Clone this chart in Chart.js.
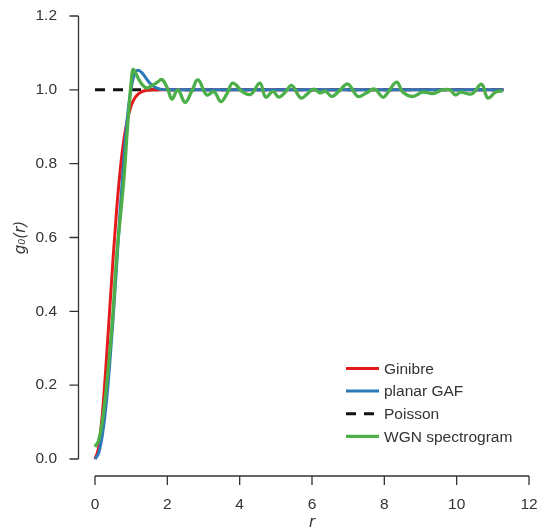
<!DOCTYPE html>
<html>
<head>
<meta charset="utf-8">
<script src="https://cdn.jsdelivr.net/npm/chart.js@4/dist/chart.umd.min.js"></script>
<style>
  html, body { margin: 0; padding: 0; background: #fff; }
</style>
</head>
<body>
<canvas id="chartCanvas" width="541" height="532"></canvas>
<script>
// r values for the smooth curves
const rSmooth = [0, 0.1, 0.2, 0.3, 0.4, 0.5, 0.6, 0.7, 0.8, 0.9, 1.0, 1.1, 1.2, 1.3, 1.4, 1.5, 1.6, 1.7, 1.8, 2.0, 2.4, 11.3];
const ginibre = [0, 0.031, 0.118, 0.247, 0.395, 0.544, 0.677, 0.785, 0.866, 0.921, 0.957, 0.978, 0.989, 0.995, 0.998, 0.999, 1.0, 1.0, 1.0, 1.0, 1.0, 1.0];
const planarGaf = [0, 0.016, 0.063, 0.140, 0.248, 0.38, 0.527, 0.679, 0.818, 0.930, 1.005, 1.044, 1.053, 1.046, 1.033, 1.020, 1.011, 1.005, 1.002, 1.0, 1.0, 1.0];

const rPoisson = [0, 11.3];
const poisson = [1.0, 1.0];

// WGN spectrogram estimate (noisy)
const rWgn = [0, 0.1, 0.2, 0.3, 0.4, 0.5, 0.6, 0.7, 0.8, 0.9, 1.0, 1.05, 1.1, 1.2, 1.3, 1.43, 1.58, 1.72, 1.85, 2.0,
  2.13, 2.29, 2.49, 2.67, 2.85, 3.09, 3.29, 3.48, 3.65, 3.81, 4.09, 4.31, 4.56, 4.72, 4.92, 5.08, 5.27, 5.44, 5.69, 5.88,
  6.05, 6.22, 6.38, 6.55, 6.78, 6.99, 7.27, 7.49, 7.73, 7.96, 8.09, 8.34, 8.51, 8.78, 9.06, 9.34, 9.61, 9.81, 9.97, 10.11,
  10.28, 10.44, 10.69, 10.86, 11.08, 11.27];
const wgn = [0.033, 0.05, 0.10, 0.18, 0.28, 0.40, 0.55, 0.655, 0.76, 0.90, 1.02, 1.055, 1.05, 1.03, 1.015, 1.005, 1.012, 1.02, 1.028, 1.005,
  0.975, 1.0, 0.966, 0.995, 1.027, 0.986, 0.995, 0.968, 0.99, 1.018, 0.994, 0.988, 1.018, 0.98, 0.996, 0.98, 0.995, 1.012, 0.978, 0.99,
  1.002, 0.992, 0.996, 0.982, 1.0, 1.016, 0.982, 0.991, 1.002, 0.98, 0.992, 1.021, 0.994, 0.982, 0.994, 0.99, 1.0, 1.0, 0.986, 0.994,
  0.99, 0.99, 1.015, 0.978, 0.994, 0.997];

const xTicks = [0, 2, 4, 6, 8, 10, 12];
const yTicks = [0.0, 0.2, 0.4, 0.6, 0.8, 1.0, 1.2];

const textColor = '#333333';
const tickFont = { family: 'Liberation Sans, Arial, sans-serif', size: 15.5 };

function toPoints(xs, ys) {
  return xs.map((x, i) => ({ x: x, y: ys[i] }));
}

// offset spines like seaborn despine(offset=...)
const spinePlugin = {
  id: 'spines',
  afterDraw(chart) {
    const ctx = chart.ctx;
    const xs = chart.scales.x, ys = chart.scales.y;
    const area = chart.chartArea;
    const sx = area.left - 16.5;
    const sy = area.bottom + 17;
    ctx.save();
    ctx.strokeStyle = textColor;
    ctx.lineWidth = 1.3;
    ctx.beginPath();
    ctx.moveTo(sx, ys.getPixelForValue(yTicks[0]));
    ctx.lineTo(sx, ys.getPixelForValue(yTicks[yTicks.length - 1]));
    yTicks.forEach(v => {
      const p = ys.getPixelForValue(v);
      ctx.moveTo(sx - 9, p);
      ctx.lineTo(sx, p);
    });
    ctx.moveTo(xs.getPixelForValue(xTicks[0]), sy);
    ctx.lineTo(xs.getPixelForValue(xTicks[xTicks.length - 1]), sy);
    xTicks.forEach(v => {
      const p = xs.getPixelForValue(v);
      ctx.moveTo(p, sy);
      ctx.lineTo(p, sy + 9);
    });
    ctx.stroke();
    ctx.restore();
  }
};

// legend in lower right of the axes
const legendPlugin = {
  id: 'innerLegend',
  afterDraw(chart) {
    const ctx = chart.ctx;
    const x0 = 346, y0 = 368.5, step = 22.6;
    ctx.save();
    ctx.font = '15.5px Liberation Sans, Arial, sans-serif';
    ctx.textBaseline = 'middle';
    ctx.fillStyle = textColor;
    chart.data.datasets.forEach((ds, i) => {
      const y = y0 + i * step;
      ctx.strokeStyle = ds.borderColor;
      ctx.lineWidth = ds.borderWidth;
      ctx.setLineDash(ds.borderDash || []);
      ctx.beginPath();
      ctx.moveTo(x0, y);
      ctx.lineTo(x0 + 33, y);
      ctx.stroke();
      ctx.setLineDash([]);
      ctx.fillText(ds.label, x0 + 38, y + 1);
    });
    ctx.restore();
  }
};

function noPad(s) {
  s.paddingTop = 0; s.paddingBottom = 0; s.paddingLeft = 0; s.paddingRight = 0;
}

new Chart(document.getElementById('chartCanvas').getContext('2d'), {
  type: 'line',
  data: {
    datasets: [
      {
        label: 'Ginibre', data: toPoints(rSmooth, ginibre),
        borderColor: '#e41a1c', borderWidth: 3, pointRadius: 0,
        cubicInterpolationMode: 'monotone', order: 3, clip: false
      },
      {
        label: 'planar GAF', data: toPoints(rSmooth, planarGaf),
        borderColor: '#2a7ab9', borderWidth: 3, pointRadius: 0,
        cubicInterpolationMode: 'monotone', order: 2, clip: false
      },
      {
        label: 'Poisson', data: toPoints(rPoisson, poisson),
        borderColor: '#111111', borderWidth: 3, borderDash: [10, 8], pointRadius: 0,
        order: 4, clip: false
      },
      {
        label: 'WGN spectrogram', data: toPoints(rWgn, wgn),
        borderColor: '#4daf4a', borderWidth: 3.3, pointRadius: 0,
        tension: 0.4, order: 1, clip: false
      }
    ]
  },
  options: {
    responsive: false,
    animation: false,
    layout: { padding: { top: 16, right: 12, left: 0, bottom: 0 } },
    plugins: { legend: { display: false }, tooltip: { enabled: false } },
    scales: {
      x: {
        type: 'linear', min: 0, max: 12,
        afterFit: s => { s.height = 73; noPad(s); },
        afterBuildTicks: s => { s.ticks = xTicks.map(v => ({ value: v })); },
        grid: { display: false, drawTicks: false },
        border: { display: false },
        ticks: { color: textColor, font: tickFont, padding: 36, maxRotation: 0, callback: v => String(v) },
        title: {
          display: true, text: 'r', color: textColor,
          font: { family: 'DejaVu Sans', size: 15, style: 'italic' },
          padding: { top: 0, bottom: 0 }
        }
      },
      y: {
        type: 'linear', min: 0, max: 1.2,
        afterFit: s => { s.width = 95; noPad(s); },
        afterBuildTicks: s => { s.ticks = yTicks.map(v => ({ value: v })); },
        grid: { display: false, drawTicks: false },
        border: { display: false },
        ticks: { color: textColor, font: tickFont, padding: 38, callback: v => v.toFixed(1) },
        title: {
          display: true, text: 'g₀(r)', color: textColor,
          font: { family: 'DejaVu Sans', size: 15, style: 'italic' },
          padding: { top: 12, bottom: 0 }
        }
      }
    }
  },
  plugins: [spinePlugin, legendPlugin]
});
</script>
</body>
</html>
